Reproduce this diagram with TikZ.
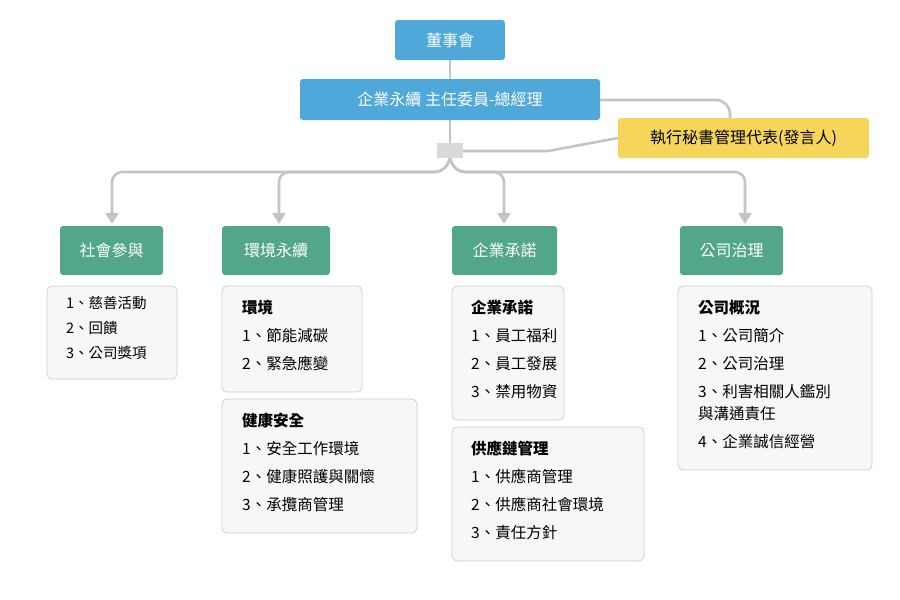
\documentclass[tikz,border=0pt]{standalone}
\usepackage{fontspec}
\setmainfont{Noto Sans CJK TC}
\usetikzlibrary{arrows.meta}
\definecolor{blu}{HTML}{4EA8DA}
\definecolor{grn}{HTML}{52A78A}
\definecolor{yel}{HTML}{F5D55A}
\definecolor{ln}{HTML}{C4C4C4}
\definecolor{bx}{HTML}{F7F7F7}
\definecolor{bxd}{HTML}{CFCFCF}
\begin{document}
\begin{tikzpicture}[x=1pt,y=-1pt,
  blk/.style={fill=#1,rounded corners=3pt,draw=none},
  lst/.style={fill=bx,draw=bxd,rounded corners=5pt,line width=0.8pt},
  conn/.style={draw=ln,line width=2.6pt,rounded corners=14pt},
  arr/.style={conn,-{Triangle[width=13pt,length=11pt]}},
  tw/.style={text=white,font=\fontsize{16}{19}\selectfont},
  tx/.style={anchor=north west,align=left,inner sep=0pt,font=\fontsize{15.5}{#1}\selectfont},
  tx/.default=28]
\useasboundingbox (0,0) rectangle (900,600);
% connectors (behind)
\coordinate (j) at (450,158);
\draw[conn] (450,60) -- (450,150);
\draw[conn] (600,100) -- (730,100) -- (730,119);
\draw[conn,rounded corners=0pt] (463,151) -- (548,151) -- (618,138);
\draw[arr,rounded corners=10pt] (j) -- (445,172) -- (112,172) -- (112,224);
\draw[arr,rounded corners=10pt] (j) -- (445,172) -- (279,172) -- (279,224);
\draw[arr,rounded corners=10pt] (j) -- (455,172) -- (504,172) -- (504,224);
\draw[arr,rounded corners=10pt] (j) -- (455,172) -- (745,172) -- (745,224);
% top
\path[blk=blu] (395,20) rectangle (505,60) node[midway,tw] (board) {董事會};
\path[blk=blu] (300,79) rectangle (600,120) node[midway,tw] (gm) {企業永續 主任委員-總經理};
\path[blk=yel] (618,118) rectangle (869,158) node[midway,font=\fontsize{16}{19}\selectfont] (sec) {執行秘書管理代表(發言人)};
\path[fill=bxd!80] (437,143) rectangle (463,158);
% categories
\path[blk=grn] (60,226) rectangle (163,275) node[midway,tw] (c1) {社會參與};
\path[blk=grn] (222,226) rectangle (330,275) node[midway,tw] (c2) {環境永續};
\path[blk=grn] (452,226) rectangle (557,275) node[midway,tw] (c3) {企業承諾};
\path[blk=grn] (680,226) rectangle (783,275) node[midway,tw] (c4) {公司治理};
% lists
\draw[lst] (47,286) rectangle (177,379);
\node[tx=25,font=\fontsize{14.5}{25}\selectfont] (l1) at (66,296) {1、慈善活動\\2、回饋\\3、公司獎項};
\draw[lst] (222,286) rectangle (362,392);
\node[tx] (l2) at (242,300) {\textbf{環境}\\1、節能減碳\\2、緊急應變};
\draw[lst] (222,399) rectangle (417,533);
\node[tx] (l3) at (242,413) {\textbf{健康安全}\\1、安全工作環境\\2、健康照護與關懷\\3、承攬商管理};
\draw[lst] (452,286) rectangle (564,420);
\node[tx] (l4) at (471,300) {\textbf{企業承諾}\\1、員工福利\\2、員工發展\\3、禁用物資};
\draw[lst] (452,427) rectangle (644,561);
\node[tx] (l5) at (471,441) {\textbf{供應鏈管理}\\1、供應商管理\\2、供應商社會環境\\3、責任方針};
\draw[lst] (678,286) rectangle (872,470);
\node[tx] (l6) at (698,300) {\textbf{公司概況}\\1、公司簡介\\2、公司治理\\3、利害相關人鑑別\\[-6pt]與溝通責任\\4、企業誠信經營};
\end{tikzpicture}
\end{document}
